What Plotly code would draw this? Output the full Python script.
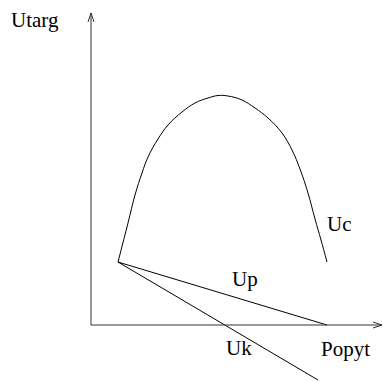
import plotly.graph_objects as go

# Uc - curve of total revenue
uc_x = [27, 37, 44, 51, 57, 67, 77, 91, 104, 117, 127, 137, 151, 164, 177,
        191, 201, 209, 217, 224, 230, 236]
uc_y = [63, 102, 130, 152, 168, 186, 200, 213, 222, 227, 229.5, 229, 225, 217, 207,
        192, 175, 156, 132, 106, 85, 63]

# Up and Uk straight lines
up_x = [27, 236]
up_y = [63, 0]
uk_x = [27, 227]
uk_y = [63, -55]

# axis ends
x_end = 291
y_end = 312

labels = ["Utarg", "Uc", "Up", "Uk", "Popyt"]
label_x = [-56, 248, 154, 148, 254]
label_y = [305, 101, 46, -23, -24]

fig = go.Figure()
line = dict(color="black", width=1)
fig.add_trace(go.Scatter(x=uc_x, y=uc_y, mode="lines",
                         line=dict(color="black", width=1, shape="spline", smoothing=1.1)))
fig.add_trace(go.Scatter(x=up_x, y=up_y, mode="lines", line=line))
fig.add_trace(go.Scatter(x=uk_x, y=uk_y, mode="lines", line=line))

# axes with open arrowheads
ax_col = "#333333"
fig.add_shape(type="line", x0=0, y0=0, x1=0, y1=y_end, line=dict(color=ax_col, width=1))
fig.add_shape(type="line", x0=0, y0=0, x1=x_end, y1=0, line=dict(color=ax_col, width=1))
fig.add_shape(type="path",
              path=f"M -3 {y_end-9} L 0 {y_end} L 3 {y_end-9}",
              line=dict(color=ax_col, width=1))
fig.add_shape(type="path",
              path=f"M {x_end-9} 3 L {x_end} 0 L {x_end-9} -3",
              line=dict(color=ax_col, width=1))

for t, x, y in zip(labels, label_x, label_y):
    fig.add_annotation(x=x, y=y, text=t, showarrow=False,
                       font=dict(family="Liberation Serif, Times New Roman, serif",
                                 size=21, color="black"))

fig.update_layout(
    width=383, height=381,
    margin=dict(l=0, r=0, t=0, b=0),
    paper_bgcolor="white", plot_bgcolor="white",
    showlegend=False,
    hovermode=False,
    xaxis=dict(range=[-91, 292], visible=False),
    yaxis=dict(range=[-56, 325], visible=False),
)

fig.write_html("out.html", config={"displayModeBar": False},
               post_script="document.body.style.margin='0';")
